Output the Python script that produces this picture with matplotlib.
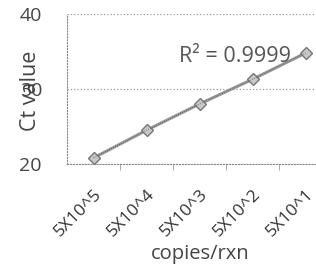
import matplotlib
matplotlib.use("Agg")
import matplotlib.pyplot as plt

categories = ["5X10^5", "5X10^4", "5X10^3", "5X10^2", "5X10^1"]
ct_values = [20.8, 24.5, 28.0, 31.3, 34.8]
y_ticks = [20, 30, 40]
r2_label = "R² = 0.9999"

plt.rcParams['font.family'] = ['Open Sans', 'DejaVu Sans']

fig = plt.figure(figsize=(3.16, 2.67), dpi=100)
ax = fig.add_axes([0.212, 0.386, 0.84, 0.562])

x = list(range(len(categories)))
ax.plot(x, ct_values, color='#999999', lw=2.2, marker='D', ms=6,
        markerfacecolor='#c8c8c8', markeredgecolor='#777777', zorder=3)
ax.plot(x, ct_values, color='#555555', lw=0.6, ls=':', zorder=4)

ax.set_xlim(-0.5, len(categories) - 0.5)
ax.set_ylim(20, 40)
ax.set_yticks(y_ticks)
ax.set_yticklabels([str(v) for v in y_ticks], fontsize=14, color='#444444')
ax.set_xticks(x)
ax.set_xticklabels(categories, rotation=45, ha='right', rotation_mode='anchor',
                   fontsize=12.5, color='#333333')
ax.tick_params(axis='x', length=0, pad=16)
ax.tick_params(axis='y', length=0, pad=18)
ax.set_xticks([i + 0.5 for i in x[:-1]], minor=True)
ax.tick_params(axis='x', which='minor', length=4, color='#999999', direction='out')

for s in ['top', 'right']:
    ax.spines[s].set_visible(False)
ax.spines['left'].set_color('#888888')
ax.spines['left'].set_linestyle(':')
ax.spines['bottom'].set_color('#888888')
ax.spines['bottom'].set_linestyle(':')
ax.yaxis.grid(True, color='#999999', ls=':', lw=0.9)
ax.set_axisbelow(True)

ax.text(3.72, 34.3, r2_label, fontsize=15.5, color='#555555', ha='right', va='center')

ax.set_xlabel("copies/rxn", fontsize=14.5, color='#444444', labelpad=3)
fig.text(0.098, 0.66, "Ct value", rotation=90, fontsize=15.5, color='#444444',
         ha='center', va='center')

fig.savefig("out.png", dpi=100, facecolor='white')
